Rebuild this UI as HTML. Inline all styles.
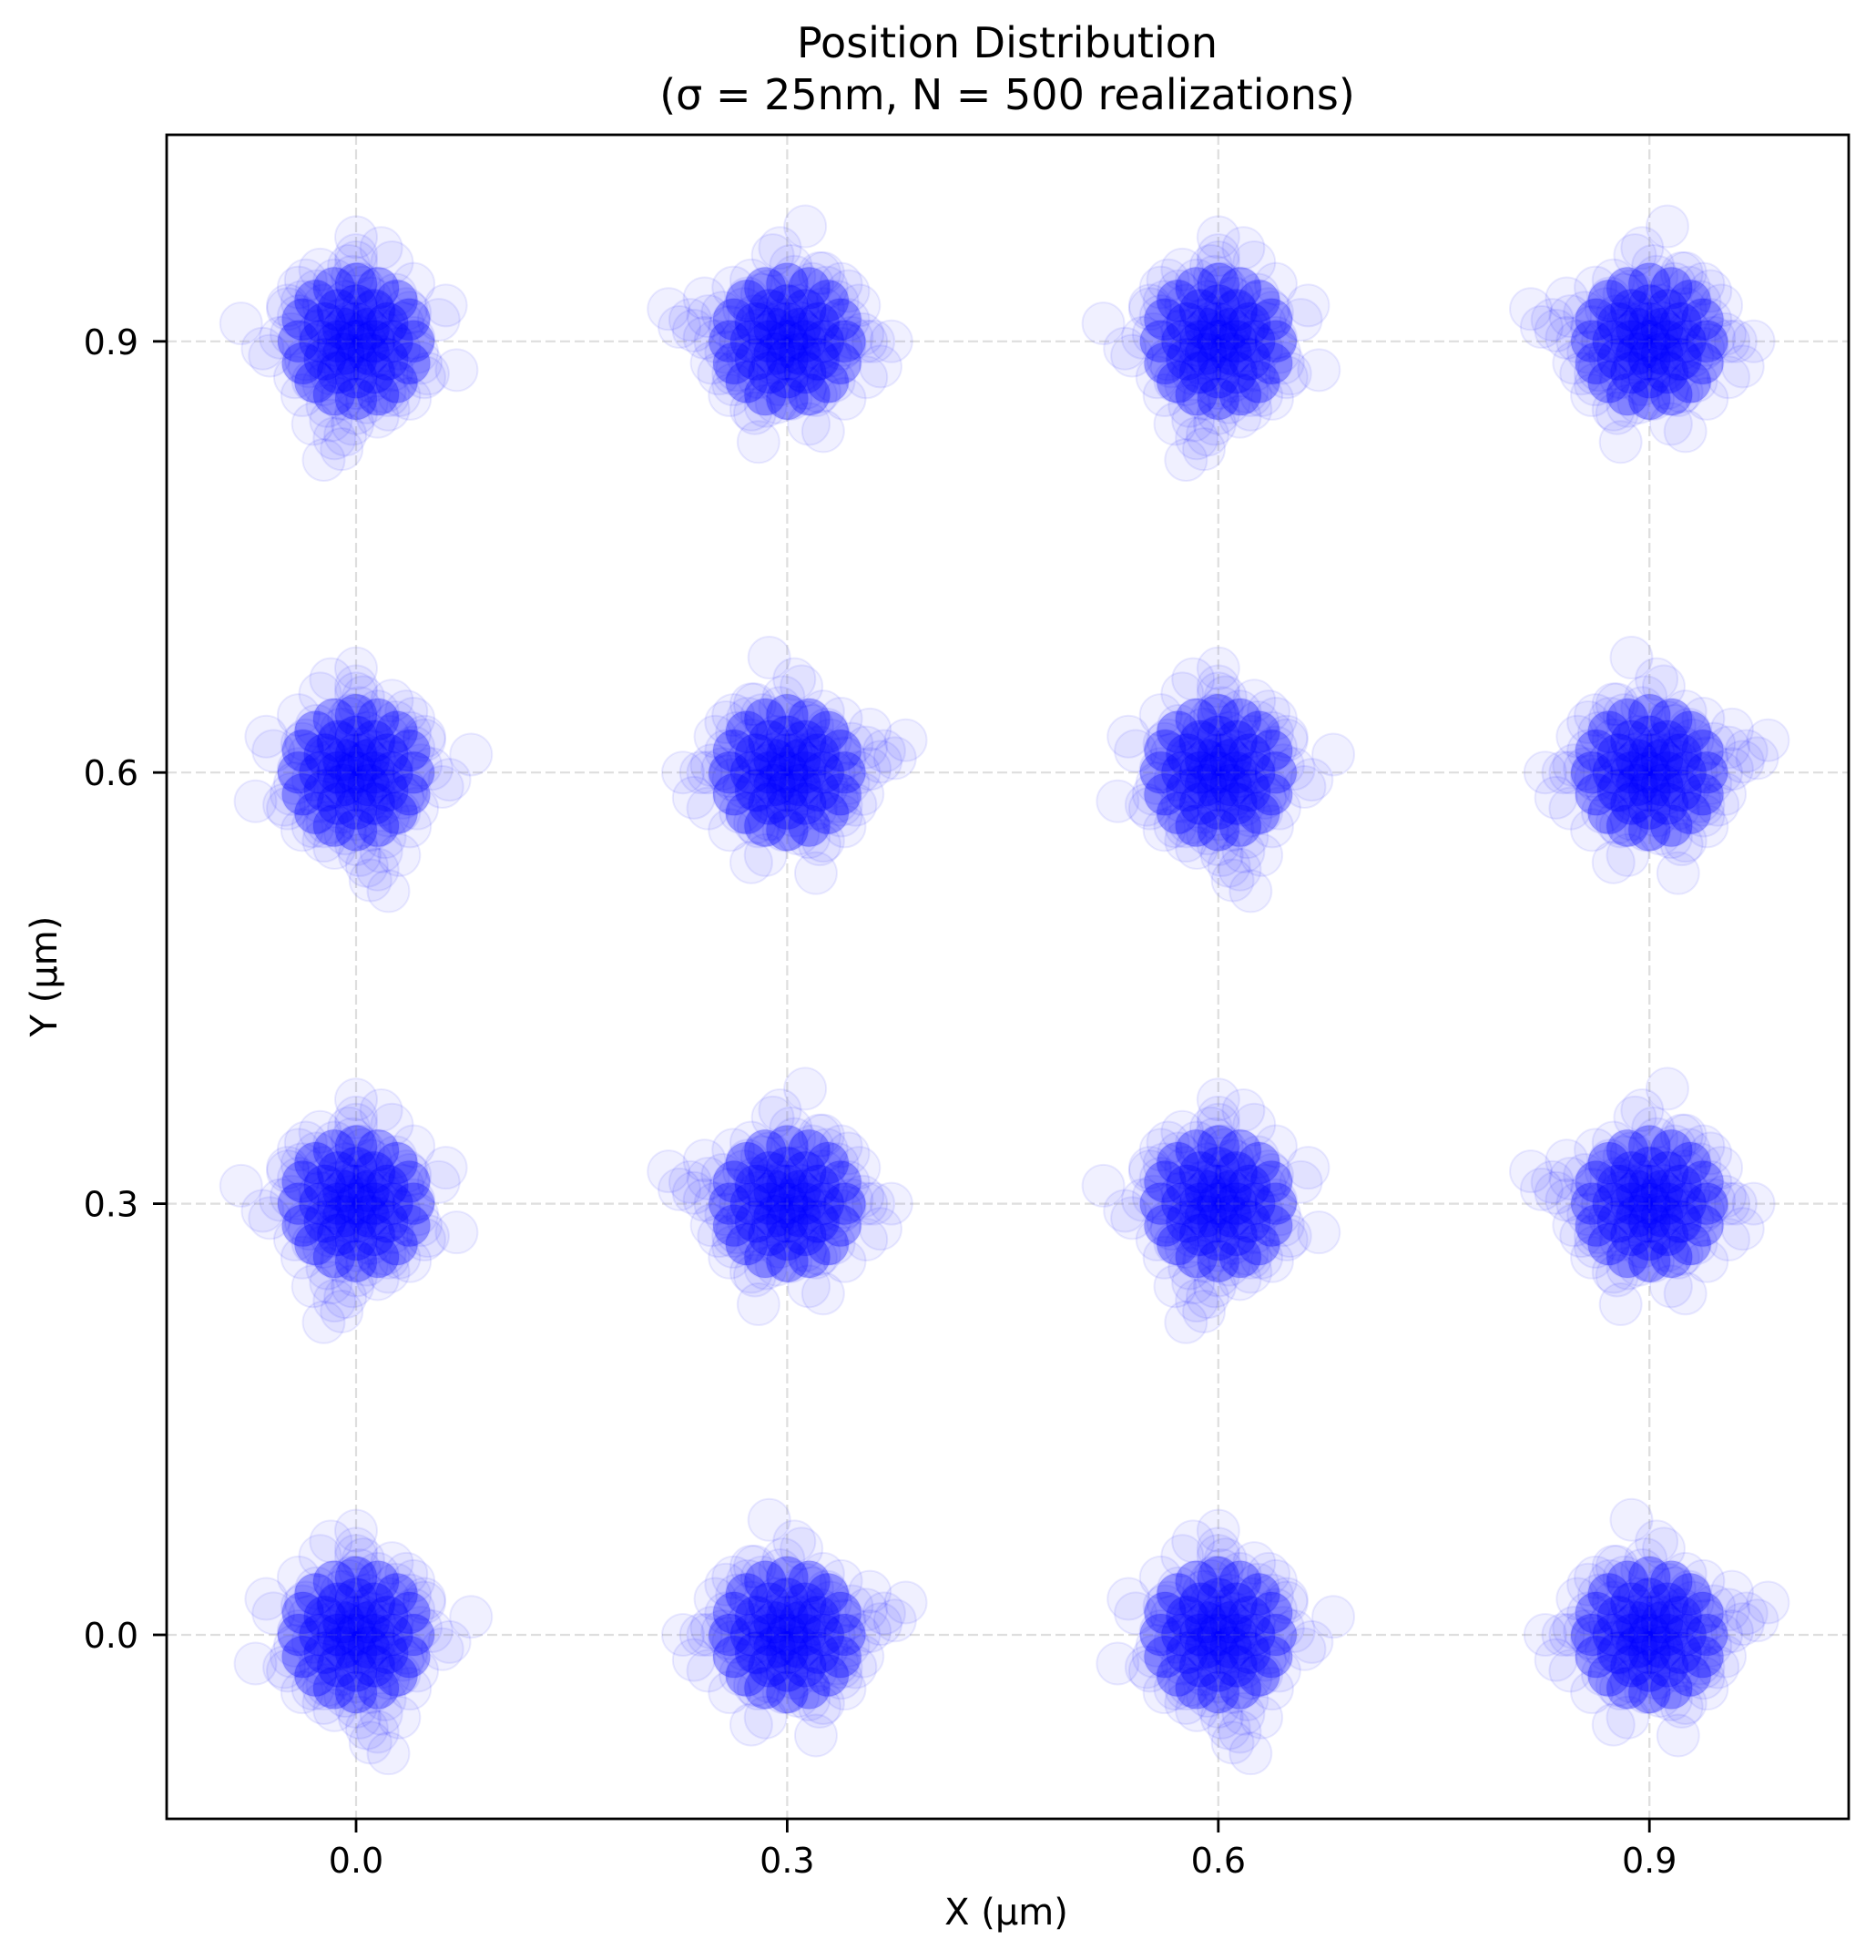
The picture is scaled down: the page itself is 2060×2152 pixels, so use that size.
<!DOCTYPE html>
<html><head><meta charset="utf-8"><style>
html,body{margin:0;padding:0;background:#fff;}
svg{display:block;font-family:"DejaVu Sans","Liberation Sans",sans-serif;}
</style></head><body>
<svg id="chart" width="2060" height="2152" viewBox="0 0 2060 2152" xmlns="http://www.w3.org/2000/svg">
<rect x="0" y="0" width="2060" height="2152" fill="#fff"/>
<text x="1106" y="63" font-size="46" text-anchor="middle">Position Distribution</text>
<text x="1106" y="120" font-size="46" text-anchor="middle">(σ = 25nm, N = 500 realizations)</text>
<g id="grid"></g>
<g id="points"></g>
<g id="grid2"></g>
<rect x="183" y="148" width="1847" height="1849" fill="none" stroke="#000" stroke-width="2.8"/>
<g id="ticks"></g>
<text x="1105" y="2113" font-size="40" text-anchor="middle">X (µm)</text>
<text x="0" y="0" font-size="40" text-anchor="middle" transform="translate(62,1072) rotate(-90)">Y (µm)</text>
</svg>
<script>
const xCenters = [0.0, 0.3, 0.6, 0.9];
const yCenters = [0.0, 0.3, 0.6, 0.9];
const xTicks = [0.0, 0.3, 0.6, 0.9];
const yTicks = [0.0, 0.3, 0.6, 0.9];
const xTickLabels = ["0.0", "0.3", "0.6", "0.9"];
const yTickLabels = ["0.0", "0.3", "0.6", "0.9"];
const sigma = 0.025;
// outer sample offsets in sigma units
const offX = [0.1,-0.3,0.5,-0.8,1.0,-1.2,0.3,0.7,-0.5,0.0,1.4,-1.6,0.9,-0.2,0.4,-1.0,1.8,-0.6,0.2,-0.1,
 1.2,-1.4,0.6,-0.9,0.8,-0.4,0.0,1.6,-1.8,0.5,-0.7,0.3,1.1,-1.1,0.2,-0.3,0.9,-0.5,2.1,-2.0,
 0.4,-0.2,1.3,-1.3,0.7,0.1,-0.8,1.5,-1.5,0.0,0.6,-0.6,2.4,-2.3,1.0,-0.9,0.3,-0.1,1.7,-1.7,
 0.5,-0.4,0.8,-1.0,1.9,-0.3,0.2,2.6,-2.5,1.2,-0.7,0.0,0.4,-1.2,1.4,-0.5,0.6,3.2,-2.8,0.9,
 1.6,-1.6,1.5,-1.5,1.9,-1.9,0.0,0.1];
const offY = [0.2,-0.1,-0.6,0.4,0.3,-0.2,1.1,-0.9,0.8,-1.3,-0.5,0.1,1.0,1.5,-1.6,-0.8,0.2,-0.4,0.5,0.0,
 -1.1,0.9,1.7,-1.5,-0.3,1.2,-2.0,0.7,-0.6,-0.2,0.3,-0.8,1.4,1.3,2.1,-1.7,-1.2,-0.4,0.1,-0.9,
 0.6,0.9,-0.7,0.5,-2.2,1.8,-1.4,1.1,0.8,2.4,-0.1,-2.1,-0.4,0.6,2.0,-1.9,-2.6,1.6,-1.0,-0.3,
 0.4,-1.1,-1.8,2.2,0.9,0.3,-0.5,-0.2,1.0,-2.3,2.6,2.9,-3.0,-1.5,1.7,0.0,-2.7,0.5,-0.8,-3.3,
 1.5,1.6,-1.5,-1.6,1.0,-1.0,2.2,-2.3];
// dense core offsets in sigma units
const coreX = [0.0,0.5,0.35,0.0,-0.35,-0.5,-0.35,0.0,0.35,
 1.0,0.87,0.5,0.0,-0.5,-0.87,-1.0,-0.87,-0.5,0.0,0.5,0.87,
 1.6,1.48,1.13,0.61,0.0,-0.61,-1.13,-1.48,-1.6,-1.48,-1.13,-0.61,0.0,0.61,1.13,1.48];
const coreY = [0.0,0.0,0.35,0.5,0.35,0.0,-0.35,-0.5,-0.35,
 0.0,0.5,0.87,1.0,0.87,0.5,0.0,-0.5,-0.87,-1.0,-0.87,-0.5,
 0.0,0.61,1.13,1.48,1.6,1.48,1.13,0.61,0.0,-0.61,-1.13,-1.48,-1.6,-1.48,-1.13,-0.61];
const X0=391, XS=1578, Y0=1795, YS=1578;
function xs(v){return X0+v*XS;}
function ys(v){return Y0-v*YS;}
const NS="http://www.w3.org/2000/svg";
const grid=document.getElementById('grid'), grid2=document.getElementById('grid2'), pts=document.getElementById('points'), tk=document.getElementById('ticks');
function gline(parent,x1,y1,x2,y2,name,op){
 const l=document.createElementNS(NS,'line');
 l.setAttribute('x1',x1);l.setAttribute('x2',x2);l.setAttribute('y1',y1);l.setAttribute('y2',y2);
 l.setAttribute('stroke','#b0b0b0');l.setAttribute('stroke-opacity',op);l.setAttribute('stroke-width','2.2');l.setAttribute('stroke-dasharray','11,5');
 
 
 parent.appendChild(l);
}
xTicks.forEach((t,i)=>{
 gline(grid,xs(t),148,xs(t),1997,'x-gridline','0.3');
 gline(grid2,xs(t),148,xs(t),1997,'x-gridline-overlay','0.15');
 const m=document.createElementNS(NS,'line');
 m.setAttribute('x1',xs(t));m.setAttribute('x2',xs(t));m.setAttribute('y1',1997);m.setAttribute('y2',2012);
 m.setAttribute('stroke','#000');m.setAttribute('stroke-width','2.8');
 
 
 tk.appendChild(m);
 const tx=document.createElementNS(NS,'text');
 tx.setAttribute('x',xs(t));tx.setAttribute('y',2056);tx.setAttribute('font-size','38');tx.setAttribute('text-anchor','middle');
 tx.textContent=xTickLabels[i];
 
 
 tk.appendChild(tx);
});
yTicks.forEach((t,i)=>{
 gline(grid,183,ys(t),2030,ys(t),'y-gridline','0.3');
 gline(grid2,183,ys(t),2030,ys(t),'y-gridline-overlay','0.15');
 const m=document.createElementNS(NS,'line');
 m.setAttribute('x1',168);m.setAttribute('x2',183);m.setAttribute('y1',ys(t));m.setAttribute('y2',ys(t));
 m.setAttribute('stroke','#000');m.setAttribute('stroke-width','2.8');
 
 
 tk.appendChild(m);
 const tx=document.createElementNS(NS,'text');
 tx.setAttribute('x',152);tx.setAttribute('y',ys(t)+14);tx.setAttribute('font-size','38');tx.setAttribute('text-anchor','end');
 tx.textContent=yTickLabels[i];
 
 
 tk.appendChild(tx);
});
xCenters.forEach((cx,ci)=>{
 yCenters.forEach((cy,cj)=>{
  const g=document.createElementNS(NS,'g');
  
  
  const flip=((ci+cj)%2===0)?1:-1, swap=(ci%2===1);
  for(let k=0;k<offX.length;k++){
   let dx=offX[k], dy=offY[k];
   if(swap){const t=dx;dx=dy;dy=t;}
   const c=document.createElementNS(NS,'circle');
   c.setAttribute('cx',xs(cx+flip*dx*sigma));
   c.setAttribute('cy',ys(cy+dy*sigma));
   c.setAttribute('r',23);
   c.setAttribute('fill','rgba(0,0,255,0.06)');
   c.setAttribute('stroke','rgba(0,0,255,0.08)');
   c.setAttribute('stroke-width','2');
   
   
   g.appendChild(c);
  }
  for(let k=0;k<coreX.length;k++){
   const c=document.createElementNS(NS,'circle');
   c.setAttribute('cx',xs(cx+flip*coreX[k]*sigma));
   c.setAttribute('cy',ys(cy+coreY[k]*sigma));
   c.setAttribute('r',23);
   c.setAttribute('fill','rgba(0,0,255,0.34)');
   c.setAttribute('stroke','rgba(0,0,255,0.06)');
   c.setAttribute('stroke-width','2');
   
   
   g.appendChild(c);
  }
  pts.appendChild(g);
 });
});
</script>
</body></html>
